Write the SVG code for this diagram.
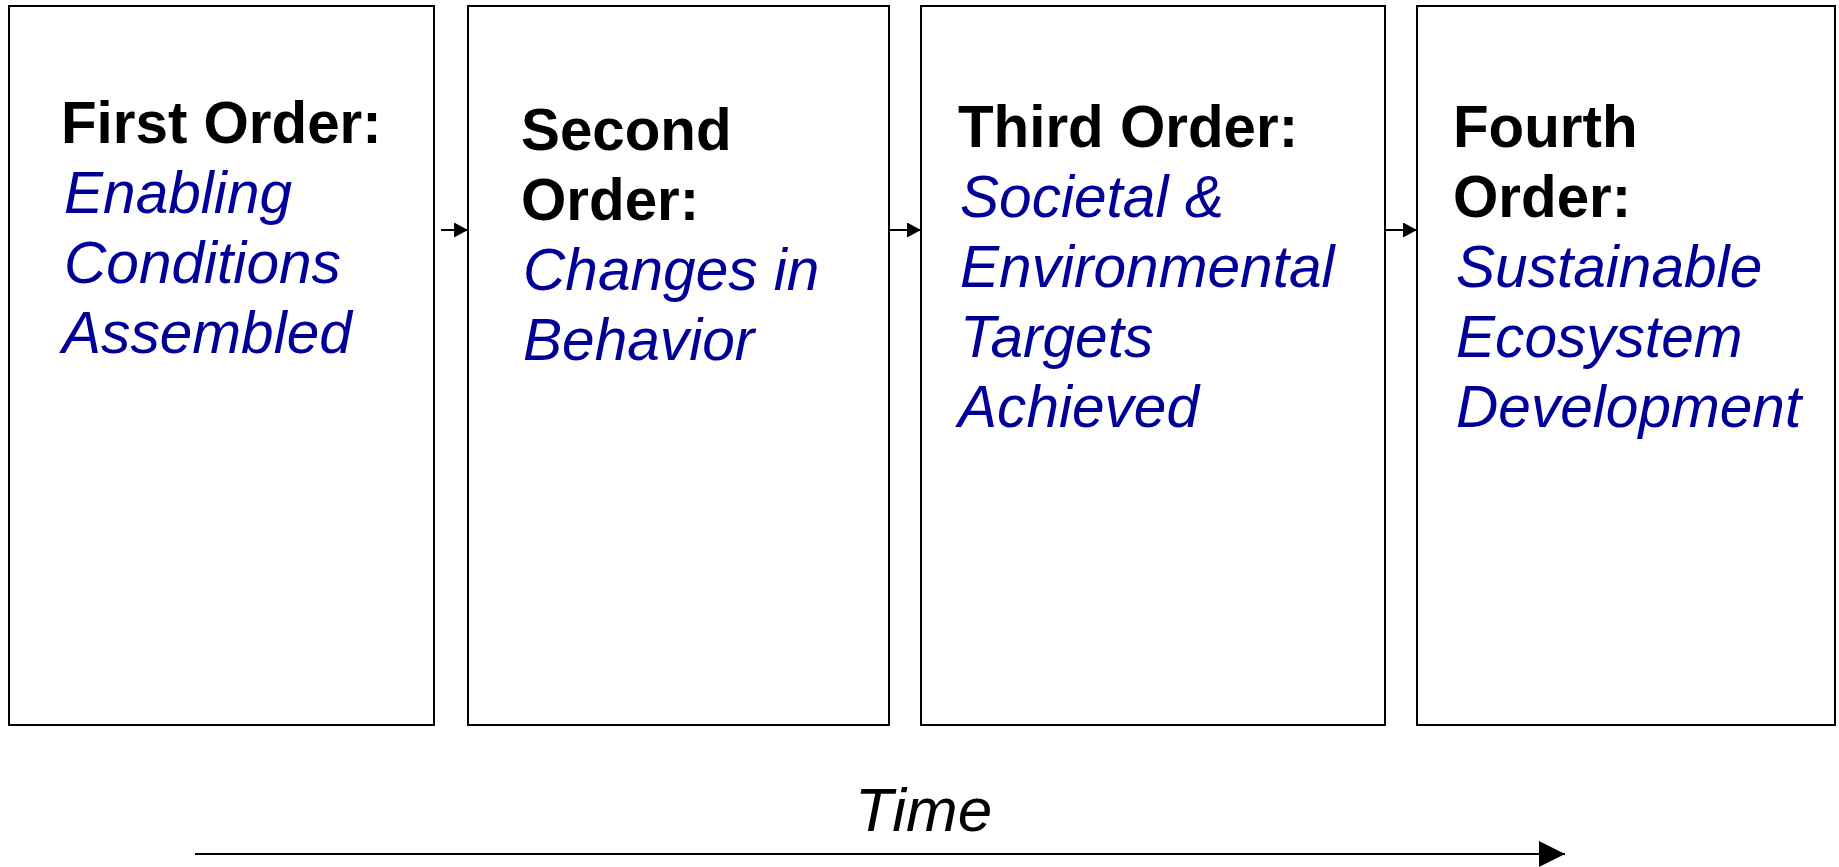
<svg xmlns="http://www.w3.org/2000/svg" width="1839" height="867" viewBox="0 0 1839 867">
<defs>
<style>
.box{fill:#fff;stroke:#000;stroke-width:2}
.h{font-family:"Liberation Sans",Arial,sans-serif;font-weight:bold;font-size:58.3px;fill:#000}
.s{font-family:"Liberation Sans",Arial,sans-serif;font-style:italic;font-size:58.6px;fill:#000099}
.t{font-family:"Liberation Sans",Arial,sans-serif;font-style:italic;font-size:62px;fill:#000}
.c{stroke:#000;stroke-width:2;fill:none}
</style>
<marker id="ah" markerWidth="14" markerHeight="15" refX="14" refY="7.5" orient="auto" markerUnits="userSpaceOnUse">
<path d="M0,0 L14,7.5 L0,15 Z" fill="#000"/>
</marker>
<marker id="ahl" markerWidth="26" markerHeight="26" refX="26" refY="13" orient="auto" markerUnits="userSpaceOnUse">
<path d="M0,0 L26,13 L0,26 Z" fill="#000"/>
</marker>
</defs>
<rect width="1839" height="867" fill="#fff"/>
<g id="node1">
<rect class="box" x="9" y="6" width="425" height="719"/>
<text class="h" x="61" y="143">First Order:</text>
<text class="s" x="64" y="213">Enabling</text>
<text class="s" x="64" y="283">Conditions</text>
<text class="s" x="62" y="353">Assembled</text>
</g>
<g id="node2">
<rect class="box" x="468" y="6" width="421" height="719"/>
<text class="h" x="521" y="150">Second</text>
<text class="h" x="521" y="220">Order:</text>
<text class="s" x="523" y="290">Changes in</text>
<text class="s" x="523" y="360">Behavior</text>
</g>
<g id="node3">
<rect class="box" x="921" y="6" width="464" height="719"/>
<text class="h" x="958" y="147">Third Order:</text>
<text class="s" x="960" y="217">Societal &amp;</text>
<text class="s" x="960" y="287">Environmental</text>
<text class="s" x="960" y="357">Targets</text>
<text class="s" x="958" y="427">Achieved</text>
</g>
<g id="node4">
<rect class="box" x="1417" y="6" width="418" height="719"/>
<text class="h" x="1453" y="147">Fourth</text>
<text class="h" x="1453" y="217">Order:</text>
<text class="s" x="1456" y="287">Sustainable</text>
<text class="s" x="1456" y="357">Ecosystem</text>
<text class="s" x="1456" y="427">Development</text>
</g>
<g id="connectors">
<line class="c" x1="441" y1="230" x2="468" y2="230" marker-end="url(#ah)"/>
<line class="c" x1="889" y1="230" x2="921" y2="230" marker-end="url(#ah)"/>
<line class="c" x1="1385" y1="230" x2="1417" y2="230" marker-end="url(#ah)"/>
</g>
<g id="time">
<text class="t" x="855" y="831">Time</text>
<line class="c" x1="195" y1="854" x2="1565" y2="854" marker-end="url(#ahl)"/>
</g>
</svg>
